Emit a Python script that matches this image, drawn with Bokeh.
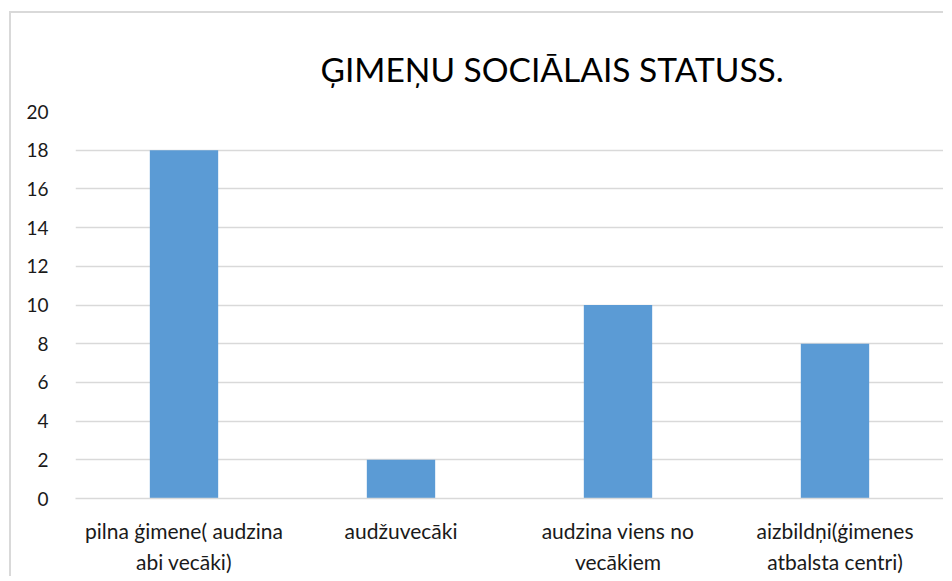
from bokeh.plotting import figure
from bokeh.models import FactorRange, ColumnDataSource
from bokeh.embed import file_html
from bokeh.resources import INLINE

categories = ["pilna ģimene( audzina\nabi vecāki)", "audžuvecāki",
              "audzina viens no\nvecākiem", "aizbildņi(ģimenes\natbalsta centri)"]
values = [18, 2, 10, 8]
y_ticks = [0, 2, 4, 6, 8, 10, 12, 14, 16, 18, 20]
title_text = "ĢIMEŅU SOCIĀLAIS STATUSS."

src = ColumnDataSource(dict(cat=categories, val=values))

p = figure(x_range=FactorRange(*categories, range_padding=0), y_range=(0, 20),
           width=934, height=565, output_backend="svg", toolbar_location=None,
           min_border_left=64, min_border_right=2, min_border_top=98, min_border_bottom=80,
           margin=(11, 0, 0, 9),
           styles={"border-left": "2px solid #d9d9d9", "border-top": "2px solid #d9d9d9"})
p.vbar(x="cat", top="val", width=0.315, source=src, color="#5B9BD5", line_color=None)

p.title.text = title_text
p.title.text_font = "Lato"
p.title.text_font_size = "33.5px"
p.title.text_font_style = "normal"
p.title.text_color = "#000000"
p.title.align = "left"
p.title.offset = 245
p.title.standoff = 45

p.outline_line_color = None
p.xgrid.grid_line_color = None
p.ygrid.grid_line_color = "#d9d9d9"
p.ygrid.grid_line_width = 1.5
p.yaxis.ticker = y_ticks
p.yaxis.axis_line_color = None
p.yaxis.major_tick_line_color = None
p.yaxis.minor_tick_line_color = None
p.xaxis.axis_line_color = "#d9d9d9"
p.xaxis.axis_line_width = 1.5
p.xaxis.major_tick_line_color = None
p.xaxis.minor_tick_line_color = None
for ax in (p.xaxis, p.yaxis):
    ax.major_label_text_font = "Lato"
    ax.major_label_text_color = "#1a1a1a"
p.yaxis.major_label_text_font_size = "19px"
p.xaxis.major_label_text_font_size = "21px"
p.xaxis.major_label_text_line_height = 1.25
p.yaxis.major_label_standoff = 21
p.xaxis.major_label_standoff = 13

open("out.html", "w").write(file_html(p, INLINE))
